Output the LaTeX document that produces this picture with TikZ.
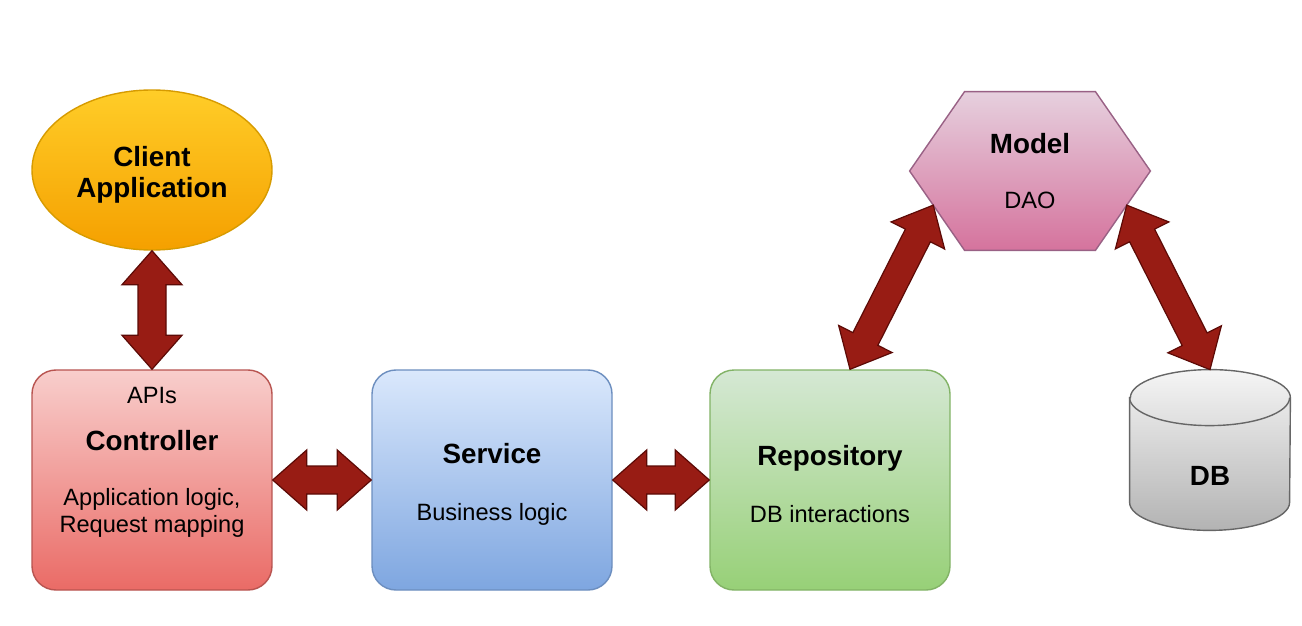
\documentclass[tikz,border=0pt]{standalone}
\usepackage{fontspec}
\setmainfont{Liberation Sans}
\usepackage{tikz}
\usetikzlibrary{calc,shapes.geometric,backgrounds}

\definecolor{clientTop}{HTML}{FFCD28}
\definecolor{clientBot}{HTML}{F5A000}
\definecolor{clientLine}{HTML}{D79B00}
\definecolor{ctrlTop}{HTML}{F8CECC}
\definecolor{ctrlBot}{HTML}{EA6B66}
\definecolor{ctrlLine}{HTML}{B85450}
\definecolor{svcTop}{HTML}{DAE8FC}
\definecolor{svcBot}{HTML}{7EA6E0}
\definecolor{svcLine}{HTML}{6C8EBF}
\definecolor{repoTop}{HTML}{D5E8D4}
\definecolor{repoBot}{HTML}{97D077}
\definecolor{repoLine}{HTML}{82B366}
\definecolor{modelTop}{HTML}{E6D0DE}
\definecolor{modelBot}{HTML}{D5739D}
\definecolor{modelLine}{HTML}{996185}
\definecolor{dbTop}{HTML}{F5F5F5}
\definecolor{dbBot}{HTML}{B3B3B3}
\definecolor{dbLine}{HTML}{666666}
\definecolor{arrowRed}{HTML}{981C14}
\definecolor{arrowLine}{HTML}{5C0A06}

\newcommand{\headfont}{\fontsize{13.9}{15.5}\selectfont\bfseries}

\tikzset{
  block/.style={rectangle, rounded corners=12pt, minimum width=120pt,
    minimum height=110pt, line width=0.7pt, inner sep=0pt},
  blocktext/.style={align=center, inner sep=0pt,
    font=\fontsize{11.8}{13.5}\selectfont},
  fatarrow/.style={fill=arrowRed, draw=arrowLine, line width=0.6pt,
    line join=miter}
}

% two-headed block arrow between two points
\newcommand{\twoway}[2]{%
  \coordinate (tw-a) at (#1);
  \coordinate (tw-b) at (#2);
  \coordinate (tw-p) at ($(tw-a)!17pt!(tw-b)$);
  \coordinate (tw-q) at ($(tw-b)!17pt!(tw-a)$);
  \draw[fatarrow] (tw-a)
    -- ($(tw-p)!15pt!90:(tw-b)$) -- ($(tw-p)!7pt!90:(tw-b)$)
    -- ($(tw-q)!7pt!-90:(tw-a)$) -- ($(tw-q)!15pt!-90:(tw-a)$)
    -- (tw-b)
    -- ($(tw-q)!15pt!90:(tw-a)$) -- ($(tw-q)!7pt!90:(tw-a)$)
    -- ($(tw-p)!7pt!-90:(tw-b)$) -- ($(tw-p)!15pt!-90:(tw-b)$)
    -- cycle;
}

\begin{document}
\begin{tikzpicture}[x=0.5pt, y=-0.5pt]
   % Page
   \begin{scope}[on background layer]
     \fill[white] (0,0) rectangle (1302,626);
   \end{scope}
   \useasboundingbox (0,0) rectangle (1302,626);
   % Client
   \node[ellipse, minimum width=120pt, minimum height=80pt, inner sep=0pt,
     top color=clientTop, bottom color=clientBot, draw=clientLine,
     line width=0.7pt] (client) at (152,170) {};
   \node[blocktext, font=\headfont] (client-txt) at (152,175) {Client\\Application};
   % Layers
   \node[block, top color=ctrlTop, bottom color=ctrlBot, draw=ctrlLine]
     (ctrl) at (152,480) {};
   \node[blocktext] (ctrl-txt) at (152,462)
     {APIs\\[10pt]{\headfont Controller}\\[14pt]Application logic,\\Request mapping};
   \node[block, top color=svcTop, bottom color=svcBot, draw=svcLine]
     (svc) at (492,480) {};
   \node[blocktext] (svc-txt) at (492,484) {{\headfont Service}\\[15pt]Business logic};
   \node[block, top color=repoTop, bottom color=repoBot, draw=repoLine]
     (repo) at (830,480) {};
   \node[blocktext] (repo-txt) at (830,484) {{\headfont Repository}\\[15pt]DB interactions};
   % Model
   \node[blocktext, minimum width=120pt, minimum height=79pt] (model) at (1030,171)
     {{\headfont Model}\\[14pt]DAO};
   \coordinate (hex-w) at (model.west);
   \coordinate (hex-e) at (model.east);
   \coordinate (hex-nw) at ([xshift=27.5pt]model.north west);
   \coordinate (hex-ne) at ([xshift=-27.5pt]model.north east);
   \coordinate (hex-sw) at ([xshift=27.5pt]model.south west);
   \coordinate (hex-se) at ([xshift=-27.5pt]model.south east);
   \begin{scope}[on background layer]
     \path[top color=modelTop, bottom color=modelBot, draw=modelLine, line width=0.7pt]
       (hex-w) -- (hex-nw) -- (hex-ne) -- (hex-e) -- (hex-se) -- (hex-sw) -- cycle;
   \end{scope}
   % DB
   \node[minimum width=80pt, minimum height=80pt, inner sep=0pt] (db) at (1210,450) {};
   \node[font=\headfont, inner sep=0pt] (db-txt) at (1210,476) {DB};
   \begin{scope}[on background layer]
     \path[top color=dbTop, bottom color=dbBot, draw=dbLine, line width=0.7pt]
       ([yshift=-14pt]db.north west) -- ([yshift=14pt]db.south west)
       arc[start angle=180, end angle=360, x radius=40pt, y radius=14pt]
       -- ([yshift=-14pt]db.north east)
       arc[start angle=0, end angle=180, x radius=40pt, y radius=14pt] -- cycle;
     \draw[dbLine, line width=0.7pt] ([yshift=-14pt]db.north west)
       arc[start angle=180, end angle=360, x radius=40pt, y radius=14pt];
   \end{scope}
   % Arrows
   \twoway{client.south}{ctrl.north}
   \twoway{ctrl.east}{svc.west}
   \twoway{svc.east}{repo.west}
   \twoway{$(repo.north)+(20,0)$}{$(hex-w)!0.43!(hex-sw)$}
   \twoway{$(hex-e)!0.43!(hex-se)$}{db.north}
\end{tikzpicture}
\end{document}
